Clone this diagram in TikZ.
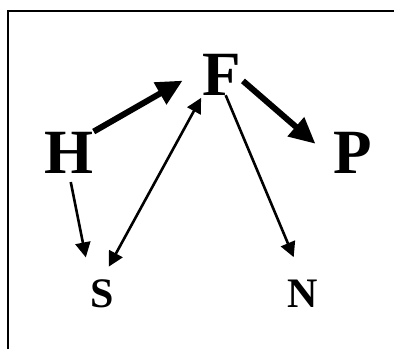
\documentclass[tikz,border=0pt]{standalone}
\usepackage{fontspec}
\setmainfont{Liberation Serif}
\usetikzlibrary{arrows.meta}

\begin{document}
\begin{tikzpicture}[x=1pt, y=-1pt,
    big/.style={inner sep=0pt, anchor=base, font=\fontsize{63}{63}\selectfont\bfseries},
    small/.style={inner sep=0pt, anchor=base, font=\fontsize{42}{42}\selectfont\bfseries},
    heavy/.style={line width=6pt, -{Triangle[length=26pt,width=24pt]}},
    light/.style={line width=2.6pt, -{Triangle[length=15pt,width=15pt]}},
    both/.style={line width=2.6pt, {Triangle[length=15pt,width=15pt]}-{Triangle[length=15pt,width=15pt]}}]
\useasboundingbox (0,0) rectangle (394,349);
% open frame: left and top sides only
\draw[line width=2.2pt] (8,349) -- (8,11) -- (396,11);
% letters
\node[big] (F) at (222,95) {F};
\node[big] (H) at (69,173) {H};
\node[big] (P) at (353,173) {P};
\node[small] (S) at (102,307) {S};
\node[small] (N) at (303,307) {N};
% heavy arrows through F
\draw[heavy, shorten >=23pt] (H.north east) -- (F.165);
\draw[heavy, shorten <=2pt, shorten >=24pt] (F.-15) -- (P.200);
% light arrows
\draw[both, shorten <=14pt, shorten >=3pt] (S.north) -- (F.south west);
\draw[light, shorten >=24pt] (F.-80) -- (N.north);
\draw[light, shorten <=9pt, shorten >=22pt] (H.south) -- (S.north west);
\end{tikzpicture}
\end{document}
